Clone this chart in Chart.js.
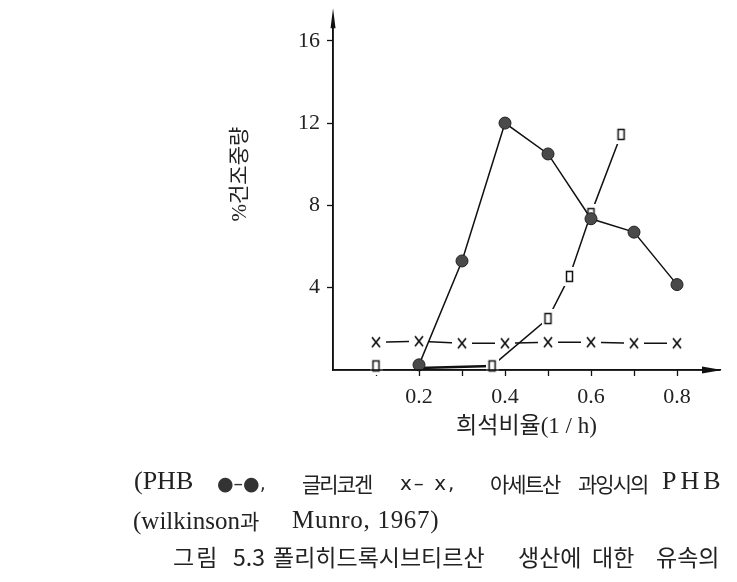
<!DOCTYPE html>
<html>
<head>
<meta charset="utf-8">
<script src="https://cdn.jsdelivr.net/npm/chart.js@4.4.0/dist/chart.umd.min.js"></script>
<style>
  body { margin: 0; background: #fff; width: 737px; height: 582px; overflow: hidden; position: relative; }
  #wrap { position: absolute; left: 0; top: 0; width: 737px; height: 582px; }
  .cap { position: absolute; white-space: nowrap; color: #222; line-height: 30px; }
  .serif { font-family: "Liberation Serif", "Noto Sans CJK KR", serif; font-size: 26px; }
  .ko { font-family: "Noto Sans CJK KR", sans-serif; font-size: 21px; letter-spacing: -2px; }
  .sym { font-family: "DejaVu Sans", sans-serif; font-size: 19px; }
  .fig { font-family: "Noto Sans CJK KR", sans-serif; font-size: 23px; color: #222; }
</style>
</head>
<body>
<div id="wrap"><canvas id="chart"></canvas></div>

<!-- caption under the chart -->
<span class="cap serif" style="left:134px;top:466px">(PHB</span>
<span class="cap sym" style="left:217px;top:468px;color:#333">●–●,</span>
<span class="cap ko" style="left:302px;top:468px">글리코겐</span>
<span class="cap sym" style="left:400px;top:468px;font-size:20px;letter-spacing:2px">x– x,</span>
<span class="cap ko" style="left:490px;top:468px">아세트산</span>
<span class="cap ko" style="left:578px;top:468px">과잉시의</span>
<span class="cap serif" style="left:662px;top:466px;letter-spacing:4px">PHB</span>

<span class="cap serif" style="left:133px;top:505px;font-size:25px">(wilkinson<span class="ko" style="font-size:21px;letter-spacing:0">과</span></span>
<span class="cap serif" style="left:292px;top:505px;font-size:25px;letter-spacing:0.7px">Munro, 1967)</span>

<span class="cap fig" style="left:173px;top:541px;letter-spacing:2px">그림</span>
<span class="cap fig" style="left:233px;top:541px">5.3</span>
<span class="cap fig" style="left:273px;top:541px">폴리히드록시브티르산</span>
<span class="cap fig" style="left:518px;top:541px">생산에</span>
<span class="cap fig" style="left:592px;top:541px">대한</span>
<span class="cap fig" style="left:656px;top:541px">유속의</span>

<script>
// values
const xTickLabels = ['0.2', '0.4', '0.6', '0.8'];
const yTickLabels = ['4', '8', '12', '16'];

const phbX = [0.2, 0.3, 0.4, 0.5, 0.6, 0.7, 0.8];
const phbY = [0.25, 5.3, 12.0, 10.5, 7.35, 6.7, 4.15];

const glycogenX = [0.1, 0.2, 0.3, 0.4, 0.5, 0.6, 0.7, 0.8];
const glycogenY = [1.35, 1.4, 1.3, 1.3, 1.35, 1.35, 1.3, 1.3];

const acetateX = [0.1, 0.2, 0.37, 0.5, 0.55, 0.6, 0.67];
const acetateY = [0.2, 0.1, 0.2, 2.5, 4.55, 7.6, 11.45];

function toPoints(xs, ys) {
    return xs.map((x, i) => ({ x: x, y: ys[i] }));
}

// little marker images with a white backing so the lines stop short of them
function makeMarker(w, h, draw) {
    const c = document.createElement('canvas');
    c.width = w;
    c.height = h;
    const g = c.getContext('2d');
    g.fillStyle = '#fff';
    g.fillRect(0, 0, w, h);
    draw(g);
    return c;
}

const crossImg = makeMarker(20, 14, g => {
    g.strokeStyle = '#111';
    g.lineWidth = 1.7;
    g.beginPath();
    g.moveTo(6, 2); g.lineTo(14, 12);
    g.moveTo(14, 2); g.lineTo(6, 12);
    g.stroke();
});

const squareImg = makeMarker(13, 19, g => {
    g.strokeStyle = '#111';
    g.lineWidth = 1.5;
    g.strokeRect(3.5, 4.5, 6, 10);
});

const serif = '"Liberation Serif", "Noto Sans CJK KR", serif';

// axis arrows, drawn after the datasets so the marker backs do not hide the axes
const axisArrows = {
    id: 'axisArrows',
    afterDatasetsDraw(chart) {
        const { ctx, chartArea } = chart;
        const l = chartArea.left, b = chartArea.bottom;
        ctx.save();
        ctx.strokeStyle = '#111';
        ctx.fillStyle = '#111';
        ctx.lineWidth = 1.5;
        ctx.beginPath();
        ctx.moveTo(l, b);
        ctx.lineTo(l, chartArea.top);
        ctx.moveTo(l, b);
        ctx.lineTo(chartArea.right, b);
        ctx.stroke();
        ctx.beginPath();
        ctx.moveTo(l, chartArea.top - 12);
        ctx.lineTo(l - 2.5, chartArea.top + 8);
        ctx.lineTo(l + 2.5, chartArea.top + 8);
        ctx.closePath();
        ctx.fill();
        ctx.beginPath();
        ctx.moveTo(chartArea.right + 2, b);
        ctx.lineTo(chartArea.right - 18, b - 3.5);
        ctx.lineTo(chartArea.right - 18, b + 3.5);
        ctx.closePath();
        ctx.fill();
        ctx.restore();
    }
};

const ctx = document.getElementById('chart').getContext('2d');
const chart = new Chart(ctx, {
    type: 'line',
    data: {
        datasets: [{
            label: 'PHB',
            data: toPoints(phbX, phbY),
            borderColor: '#111',
            borderWidth: 1.5,
            pointStyle: 'circle',
            pointRadius: 6,
            pointBackgroundColor: '#4a4a4a',
            pointBorderColor: '#222',
            pointBorderWidth: 1,
            tension: 0,
            clip: false
        }, {
            label: '아세트산 과잉시의 PHB',
            data: toPoints(acetateX, acetateY),
            borderColor: '#111',
            borderWidth: 1.5,
            pointStyle: squareImg,
            pointRadius: ctx => ctx.dataIndex === 1 ? 0 : 5,
            tension: 0,
            clip: false,
            segment: {
                borderColor: ctx => ctx.p0DataIndex === 0 ? 'rgba(0,0,0,0)' : undefined,
                borderWidth: ctx => ctx.p0DataIndex === 1 ? 2.5 : undefined
            }
        }, {
            label: '글리코겐',
            data: toPoints(glycogenX, glycogenY),
            borderColor: '#111',
            borderWidth: 1.5,
            pointStyle: crossImg,
            pointRadius: 5,
            tension: 0,
            clip: false
        }]
    },
    options: {
        responsive: true,
        maintainAspectRatio: false,
        animation: false,
        layout: {
            padding: { left: 225, right: 17, top: 15, bottom: 137 }
        },
        plugins: {
            legend: { display: false },
            tooltip: { enabled: false }
        },
        scales: {
            x: {
                type: 'linear',
                min: 0,
                max: 0.9,
                afterFit: scale => { scale.height = 75; },
                border: { display: true, color: '#111', width: 1.5 },
                grid: {
                    drawOnChartArea: false,
                    drawTicks: true,
                    tickLength: 6,
                    tickWidth: 1.3,
                    tickColor: c => (c.tick && c.tick.value > 0.05 && c.tick.value < 0.85) ? '#111' : 'rgba(0,0,0,0)'
                },
                ticks: {
                    stepSize: 0.1,
                    autoSkip: false,
                    maxRotation: 0,
                    padding: 8,
                    color: '#222',
                    font: { family: serif, size: 22 },
                    callback: v => {
                        const s = Number(v).toFixed(1);
                        return xTickLabels.includes(s) ? s : '';
                    }
                },
                title: {
                    display: true,
                    text: '희석비율(1 / h)',
                    color: '#222',
                    padding: { top: 0, bottom: 4 },
                    font: { family: serif, size: 23 }
                }
            },
            y: {
                type: 'linear',
                min: 0,
                max: 17,
                afterFit: scale => { scale.width = 108; },
                border: { display: true, color: '#111', width: 1.5 },
                grid: {
                    drawOnChartArea: false,
                    drawTicks: true,
                    tickLength: 6,
                    tickWidth: 1.3,
                    tickColor: c => (c.tick && c.tick.value > 0) ? '#111' : 'rgba(0,0,0,0)'
                },
                ticks: {
                    stepSize: 4,
                    includeBounds: false,
                    padding: 7,
                    color: '#222',
                    font: { family: serif, size: 22 },
                    callback: v => yTickLabels.includes(String(v)) ? String(v) : ''
                },
                title: {
                    display: true,
                    text: '\u3000\u3000%건조중량',
                    color: '#222',
                    padding: { top: 3, bottom: 0 },
                    font: { family: serif, size: 21 }
                }
            }
        }
    },
    plugins: [axisArrows]
});
</script>
</body>
</html>
